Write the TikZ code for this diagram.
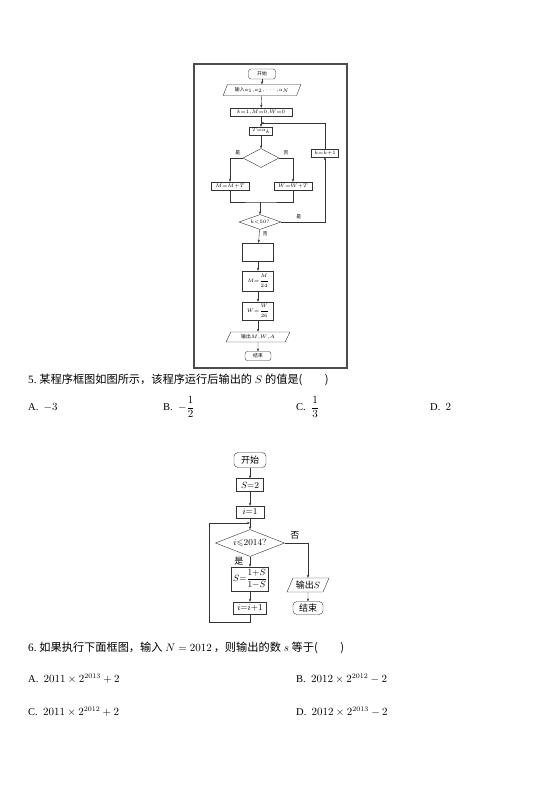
\documentclass[tikz,border=0pt]{standalone}
\usepackage{amsmath,amssymb}
\usepackage{fontspec}
\setmainfont{Liberation Serif}
\newfontfamily\cjk{Noto Sans CJK SC}
\usetikzlibrary{shapes.geometric, arrows.meta, positioning}

\begin{document}
\begin{tikzpicture}[x=1pt, y=-1pt,
    box/.style={rectangle, draw=black!80, thin, inner sep=0pt},
    term/.style={rectangle, rounded corners=2.5pt, draw=black!80, thin, inner sep=0pt},
    io/.style={trapezium, trapezium left angle=60, trapezium right angle=120, trapezium stretches=true, draw=black!80, thin, inner sep=0pt},
    cond/.style={diamond, draw=black!80, thin, inner sep=0pt},
    small/.style={font=\fontsize{4.8}{5}\selectfont},
    mid/.style={font=\fontsize{9}{10}\selectfont},
    qtext/.style={anchor=west, inner sep=0pt, font=\fontsize{10.5}{12}\selectfont},
    qline/.style={qtext, font=\fontsize{11.2}{12}\selectfont},
    line/.style={draw=black!80, -{Stealth[length=3pt, width=2.4pt]}, thin},
    seg/.style={draw=black!80, thin}
]
\useasboundingbox (0,0) rectangle (540,812);

    % Flowchart of question 4
    \draw[black!70, line width=1.3pt] (194,64) rectangle (347,368);
    \node [term, small, minimum width=27pt, minimum height=10pt] (start1) at (262,74) {\cjk 开始};
    \node [io, small, minimum width=78pt, minimum height=11pt] (input1) at (262,90) {{\cjk 输入}$a_1{,}a_2{,}\cdots{,}a_N$};
    \node [box, small, minimum width=62pt, minimum height=8pt] (init1) at (261,112) {$k{=}1{,}M{=}0{,}W{=}0$};
    \node [box, small, minimum width=23pt, minimum height=8pt] (take1) at (261,131) {$T{=}a_k$};
    \node [cond, minimum width=36pt, minimum height=19pt] (test1) at (261,158) {};
    \node [box, small, minimum width=38pt, minimum height=8pt] (addm) at (230,186) {$M{=}M{+}T$};
    \node [box, small, minimum width=38pt, minimum height=8pt] (addw) at (293,186) {$W{=}W{+}T$};
    \node [box, small, minimum width=27pt, minimum height=8pt] (incr1) at (325,153) {$k{=}k{+}1$};
    \node [cond, small, aspect=2.8, minimum width=42pt, minimum height=15pt] (test2) at (260,222) {$k{<}50?$};
    \node [box, minimum width=31pt, minimum height=18pt] (blank1) at (258,252) {};
    \node [box, small, minimum width=31pt, minimum height=20pt] (divm) at (258,281) {$M{=}\dfrac{M}{24}$};
    \node [box, small, minimum width=31pt, minimum height=18pt] (divw) at (258,311) {$W{=}\dfrac{W}{26}$};
    \node [io, small, minimum width=64pt, minimum height=10pt] (output1) at (258,337) {{\cjk 输出}$M{,}W{,}A$};
    \node [term, small, minimum width=26pt, minimum height=9pt] (end1) at (258,356) {\cjk 结束};
    \coordinate (back1) at (261,123);
    \coordinate (merge1) at (260,202);

    \path [line] (start1) -- (input1);
    \path [line] (input1) -- (init1);
    \path [line] (init1) -- (take1);
    \path [line] (take1) -- (test1);
    \path [line] (test1.west) -| node[pos=0.2, above, small] {\cjk 是} (addm.north);
    \path [line] (test1.east) -| node[pos=0.25, above, small] {\cjk 否} (addw.north);
    \path [seg] (addm.south) |- (merge1) -| (addw.south);
    \path [line] (merge1) -- (test2);
    \path [line] (test2.east) -| node[pos=0.2, above, small] {\cjk 是} (incr1.south);
    \path [line] (incr1.north) |- (back1);
    \path [line] (test2) -- node[right, small, pos=0.3] {\cjk 否} (blank1);
    \path [line] (blank1) -- (divm);
    \path [line] (divm) -- (divw);
    \path [line] (divw) -- (output1);
    \path [line] (output1) -- (end1);

    % Question 5
    \node [qline] (q5) at (28,380) {5.\ {\cjk 某程序框图如图所示，该程序运行后输出的} $S$ {\cjk 的值是(\qquad)}};
    \node [qtext] (q5a) at (28,407) {A.\ \ $-3$};
    \node [qtext] (q5b) at (163,407) {B.\ \ $-\dfrac{1}{2}$};
    \node [qtext] (q5c) at (296,407) {C.\ \ $\dfrac{1}{3}$};
    \node [qtext] (q5d) at (430,407) {D.\ \ $2$};

    % Flowchart of question 5
    \node [term, mid, minimum width=32pt, minimum height=15pt, rounded corners=4pt] (start2) at (250,460) {\cjk 开始};
    \node [box, mid, minimum width=27pt, minimum height=13pt] (set2) at (250,485) {$S{=}2$};
    \node [box, mid, minimum width=28pt, minimum height=12pt] (init2) at (250,512) {$i{=}1$};
    \node [cond, mid, aspect=2.55, minimum width=69pt, minimum height=27pt] (test3) at (250,543) {$i{\leqslant}2014?$};
    \node [box, mid, minimum width=37pt, minimum height=24pt] (upd2) at (250,579) {$S{=}\dfrac{1{+}S}{1{-}S}$};
    \node [box, mid, minimum width=33pt, minimum height=12pt] (incr2) at (250,608) {$i{=}i{+}1$};
    \node [io, mid, minimum width=42pt, minimum height=14pt] (output2) at (308,585) {{\cjk 输出}$S$};
    \node [term, mid, minimum width=30pt, minimum height=13pt, rounded corners=4pt] (end2) at (308,608) {\cjk 结束};
    \coordinate (back2) at (250,523);
    \coordinate (corner2) at (209,622);

    \path [line] (start2) -- (set2);
    \path [line] (set2) -- (init2);
    \path [line] (init2) -- (test3);
    \path [line] (test3) -- node[pos=0.45, left=3pt, mid] {\cjk 是} (upd2);
    \path [line] (upd2) -- (incr2);
    \path [line] (incr2.south) |- (corner2) |- (back2);
    \path [line] (test3.east) -| node[pos=0.22, above, mid] {\cjk 否} (output2.north);
    \path [line] (output2) -- (end2);

    % Question 6
    \node [qline] (q6) at (28,648) {6.\ {\cjk 如果执行下面框图，输入} $N=2012$\,{\cjk ，则输出的数} $s$ {\cjk 等于(\qquad)}};
    \node [qtext] (q6a) at (28,679) {A.\ \ $2011\times 2^{2013}+2$};
    \node [qtext] (q6b) at (296,679) {B.\ \ $2012\times 2^{2012}-2$};
    \node [qtext] (q6c) at (28,712) {C.\ \ $2011\times 2^{2012}+2$};
    \node [qtext] (q6d) at (296,712) {D.\ \ $2012\times 2^{2013}-2$};

\end{tikzpicture}
\end{document}
